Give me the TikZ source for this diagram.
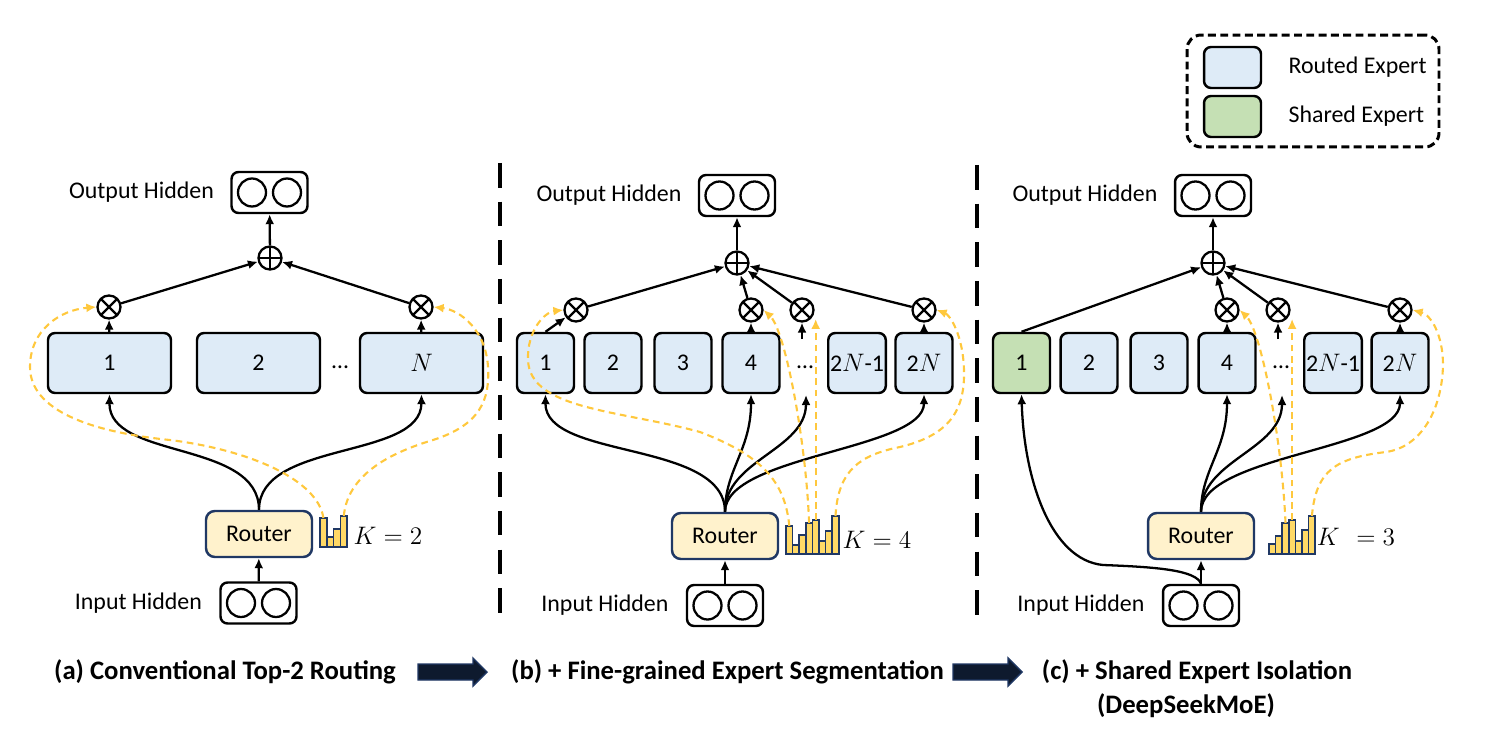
\documentclass[tikz,border=0pt]{standalone}
\usepackage{fontspec}
\setmainfont{Carlito}
\usetikzlibrary{arrows.meta,positioning}
\definecolor{routedblue}{HTML}{DEEBF7}
\definecolor{sharedgreen}{HTML}{C5E0B4}
\definecolor{routerfill}{HTML}{FFF2CC}
\definecolor{navy}{HTML}{203864}
\definecolor{gold}{HTML}{FFD966}
\definecolor{pickyellow}{HTML}{FFC83D}
\definecolor{arrowfill}{HTML}{0E1A2E}

\begin{document}
\begin{tikzpicture}[x=0.02cm, y=-0.02cm,
    every node/.style={font=\fontsize{13.6}{16}\selectfont},
    >={Latex[length=2mm,width=1.8mm]},
    expert/.style={draw, line width=1.4pt, rounded corners=4pt, fill=routedblue,
      minimum width=1.14cm, minimum height=1.2cm, inner sep=1pt},
    shared/.style={expert, fill=sharedgreen},
    mult/.style={circle, draw, line width=1.3pt, minimum size=0.46cm, inner sep=0pt,
      path picture={\draw[line width=1.3pt]
        (path picture bounding box.north west) -- (path picture bounding box.south east)
        (path picture bounding box.north east) -- (path picture bounding box.south west);}},
    addnode/.style={circle, draw, line width=1.3pt, minimum size=0.46cm, inner sep=0pt,
      path picture={\draw[line width=1.3pt]
        (path picture bounding box.north) -- (path picture bounding box.south)
        (path picture bounding box.east) -- (path picture bounding box.west);}},
    hidbox/.style={draw, line width=1.4pt, rounded corners=4pt,
      minimum width=1.52cm, minimum height=0.82cm,
      path picture={\draw[line width=1.3pt]
        ([xshift=-0.35cm]path picture bounding box.center) circle (0.28cm)
        ([xshift=0.35cm]path picture bounding box.center) circle (0.28cm);}},
    routerbox/.style={draw=navy, line width=1.4pt, rounded corners=5pt, fill=routerfill,
      minimum width=2.12cm, minimum height=0.92cm},
    barbox/.style={draw=navy, line width=1pt, fill=gold},
    flow/.style={->, line width=1.3pt},
    pick/.style={->, pickyellow, line width=1.2pt, dash pattern=on 3.8pt off 2.6pt},
    divider/.style={line width=1.8pt, dash pattern=on 14pt off 8pt},
    captxt/.style={font=\fontsize{15.2}{18}\selectfont\bfseries},
    blockarrow/.style={fill=arrowfill, draw=navy, line width=0.8pt}]

  \useasboundingbox (0,0) rectangle (1487,733);

  % (a) top-2 routing
  \node[hidbox] (aout) at (269.5,192.5) {};
  \node[left=0.32cm of aout, inner sep=0pt] (aouttxt) {Output Hidden};
  \node[addnode] (ap) at (270,258) {};
  \node[expert, minimum width=2.46cm] (a1) at (109.5,363) {1};
  \node[expert, minimum width=2.46cm] (a2) at (258.5,363) {2};
  \node[expert, minimum width=2.46cm] (aN) at (421.5,363) {$N$};
  \node (adots) at (340,367) {…};
  \node[mult] (am1) at (109,307) {};
  \node[mult] (amN) at (421,307) {};
  \node[routerbox] (ar) at (259,534) {Router};
  \node[hidbox] (ain) at (258.5,603) {};
  \node[left=0.34cm of ain, inner sep=0pt] (aintxt) {Input Hidden};
  \foreach \h [count=\i] in {29,10,18,31} {
    \draw[barbox] (313.2+6.8*\i,547) rectangle ++(6.8,-\h);
    \coordinate (ab\i) at (316.6+6.8*\i,547-\h);
  }
  \node (ak) at (388,536) {$K=2$};

  \draw[flow] (ain) -- (ar);
  \draw[flow] (ar.north) .. controls (259,440) and (109,460) .. (a1.south);
  \draw[flow] (ar.north) .. controls (259,440) and (421,460) .. (aN.south);
  \draw[flow] (a1) -- (am1);
  \draw[flow] (aN) -- (amN);
  \draw[flow] (am1) -- (ap);
  \draw[flow] (amN) -- (ap);
  \draw[flow] (ap) -- (aout);
  \draw[pick] (ab1) .. controls (318,480) and (250,450) .. (170,440)
    .. controls (90,432) and (30,410) .. (30,367)
    .. controls (30,330) and (60,310) .. (am1.west);
  \draw[pick] (ab4) .. controls (348,470) and (400,450) .. (433,440)
    .. controls (480,425) and (490,400) .. (488,367)
    .. controls (486,330) and (460,310) .. (amN.east);

  \draw[divider] (500,163) -- (500,620);
  \draw[divider] (977,165) -- (977,620);

  % (b) fine-grained segmentation
  \node[hidbox] (bout) at (737,195.5) {};
  \node[left=0.32cm of bout, inner sep=0pt] (bouttxt) {Output Hidden};
  \node[addnode] (bp) at (737,263) {};
  \foreach \x/\t [count=\i] in {545.5/1,613/2,683/3,751/4,857/{2$N$-1},924/{2$N$}}
    \node[expert] (b\i) at (\x,363) {\t};
  \node (bdots) at (805,367) {…};
  \node[mult] (bm1) at (576,310) {};
  \node[mult] (bm4) at (751,310) {};
  \node[mult] (bmd) at (802,310) {};
  \node[mult] (bm6) at (924,310) {};
  \coordinate (bdt) at (802,339);
  \coordinate (bdb) at (806,395);
  \node[routerbox] (br) at (725,536) {Router};
  \node[hidbox] (bin) at (725,605.5) {};
  \node[left=0.34cm of bin, inner sep=0pt] (bintxt) {Input Hidden};
  \foreach \h [count=\i] in {28,9,19,31,34,13,23,38} {
    \draw[barbox] (779.4+6.6*\i,554) rectangle ++(6.6,-\h);
    \coordinate (bb\i) at (782.7+6.6*\i,554-\h);
  }
  \node (bk) at (877,540) {$K=4$};

  \draw[flow] (bin) -- (br);
  \draw[flow] (br.north) .. controls (725,440) and (545,460) .. (b1.south);
  \draw[flow] (br.north) .. controls (725,470) and (751,450) .. (b4.south);
  \draw[flow] (br.north) .. controls (725,460) and (806,450) .. (bdb);
  \draw[flow] (br.north) .. controls (725,455) and (924,450) .. (b6.south);
  \draw[flow] (b1.north) -- (bm1);
  \draw[flow] (b4) -- (bm4);
  \draw[flow] (bdt) -- (bmd);
  \draw[flow] (b6) -- (bm6);
  \foreach \m in {bm1,bm4,bmd,bm6}
    \draw[flow] (\m) -- (bp);
  \draw[flow] (bp) -- (bout);
  \draw[pick] (bb1) .. controls (785,480) and (760,455) .. (700,432)
    .. controls (620,410) and (530,410) .. (528,360)
    .. controls (527,330) and (545,312) .. (bm1.west);
  \draw[pick] (bb4) .. controls (806,440) and (785,330) .. (bm4.east);
  \draw[pick] (bb5) -- (bb5 |- bmd.south east);
  \draw[pick] (bb8) .. controls (838,470) and (860,455) .. (900,447)
    .. controls (950,435) and (965,410) .. (964,370)
    .. controls (963,335) and (950,315) .. (bm6.east);

  % (c) shared expert isolation
  \begin{scope}[shift={(476,0)}]
    \node[hidbox] (cout) at (737,195.5) {};
    \node[left=0.32cm of cout, inner sep=0pt] (couttxt) {Output Hidden};
    \node[addnode] (cp) at (737,263) {};
    \node[shared] (c1) at (545.5,363) {1};
    \foreach \x/\t [count=\i from 2] in {613/2,683/3,751/4,857/{2$N$-1},924/{2$N$}}
      \node[expert] (c\i) at (\x,363) {\t};
    \node (cdots) at (805,367) {…};
    \node[mult] (cm4) at (751,310) {};
    \node[mult] (cmd) at (802,310) {};
    \node[mult] (cm6) at (924,310) {};
    \coordinate (cdt) at (802,339);
    \coordinate (cdb) at (806,395);
    \node[routerbox] (cr) at (725,536) {Router};
    \node[hidbox] (cin) at (725,605.5) {};
    \node[left=0.34cm of cin, inner sep=0pt] (cintxt) {Input Hidden};
    \foreach \h [count=\i] in {10,18,31,34,13,24,38} {
      \draw[barbox] (786.4+6.6*\i,554) rectangle ++(6.6,-\h);
      \coordinate (cb\i) at (789.7+6.6*\i,554-\h);
    }
    \node (ck) at (880,537) {$K\ \,=3$};

    \draw[flow] (cin) -- (cr);
    \draw[flow] (cin.north) .. controls (720,570) and (680,567) .. (627,565)
      .. controls (575,560) and (548,480) .. (c1.south);
    \draw[flow] (cr.north) .. controls (725,470) and (751,450) .. (c4.south);
    \draw[flow] (cr.north) .. controls (725,460) and (806,450) .. (cdb);
    \draw[flow] (cr.north) .. controls (725,455) and (924,450) .. (c6.south);
    \draw[flow] (c1.north) -- (cp);
    \draw[flow] (c4) -- (cm4);
    \draw[flow] (cdt) -- (cmd);
    \draw[flow] (c6) -- (cm6);
    \foreach \m in {cm4,cmd,cm6}
      \draw[flow] (\m) -- (cp);
    \draw[flow] (cp) -- (cout);
    \draw[pick] (cb3) .. controls (806,440) and (785,330) .. (cm4.east);
    \draw[pick] (cb4) -- (cb4 |- cmd.south east);
    \draw[pick] (cb7) .. controls (840,470) and (860,458) .. (910,452)
      .. controls (945,447) and (966,410) .. (967,365)
      .. controls (967,335) and (955,315) .. (cm6.east);
  \end{scope}

  % legend
  \node[draw, line width=1.7pt, dash pattern=on 4.5pt off 2.5pt, rounded corners=8pt,
    minimum width=5.04cm, minimum height=2.24cm] (legend) at (1313,91) {};
  \node[expert, minimum height=0.82cm] (lrouted) at (1232.5,67.5) {};
  \node[shared, minimum height=0.82cm] (lshared) at (1232.5,116.5) {};
  \node[right=0.52cm of lrouted, inner sep=0pt] (lroutedtxt) {Routed Expert};
  \node[right=0.52cm of lshared, inner sep=0pt] (lsharedtxt) {Shared Expert};

  % captions
  \node[captxt] (capa) at (225,672) {(a) Conventional Top-2 Routing};
  \node[captxt] (capb) at (727.5,672) {(b) + Fine-grained Expert Segmentation};
  \node[captxt] (capc) at (1197,672) {(c) + Shared Expert Isolation};
  \node[captxt] (capd) at (1186,706) {(DeepSeekMoE)};
  \foreach \x in {418,953}
    \draw[blockarrow] (\x,664) -- (\x+55,664) -- (\x+55,658) -- (\x+69,672)
      -- (\x+55,686) -- (\x+55,680) -- (\x,680) -- cycle;
\end{tikzpicture}
\end{document}
